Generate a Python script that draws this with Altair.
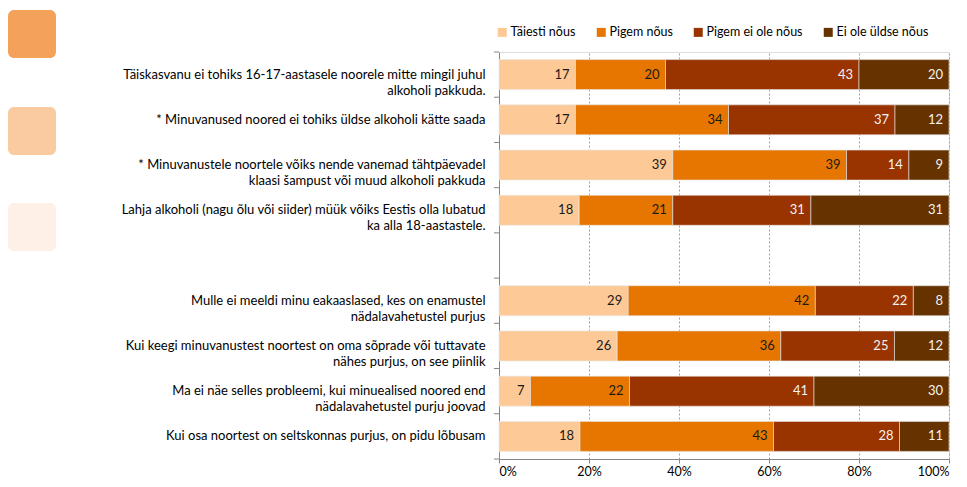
import altair as alt
import pandas as pd

statements = [
    "Täiskasvanu ei tohiks 16-17-aastasele noorele mitte mingil juhul\nalkoholi pakkuda.",
    "* Minuvanused noored ei tohiks üldse alkoholi kätte saada",
    "* Minuvanustele noortele võiks nende vanemad tähtpäevadel\nklaasi šampust või muud alkoholi pakkuda",
    "Lahja alkoholi (nagu õlu või siider) müük võiks Eestis olla lubatud\nka alla 18-aastastele.",
    " ",
    "Mulle ei meeldi minu eakaaslased, kes on enamustel\nnädalavahetustel purjus",
    "Kui keegi minuvanustest noortest on oma sõprade või tuttavate\nnähes purjus, on see piinlik",
    "Ma ei näe selles probleemi, kui minuealised noored end\nnädalavahetustel purju joovad",
    "Kui osa noortest on seltskonnas purjus, on pidu lõbusam",
]
responses = ["Täiesti nõus", "Pigem nõus", "Pigem ei ole nõus", "Ei ole üldse nõus"]
colors = ["#FDC996", "#E67600", "#993300", "#663300"]

taiesti = [17, 17, 39, 18, None, 29, 26, 7, 18]
pigem = [20, 34, 39, 21, None, 42, 36, 22, 43]
pigem_ei = [43, 37, 14, 31, None, 22, 25, 41, 28]
ei_ylds = [20, 12, 9, 31, None, 8, 12, 30, 11]

rows = []
for i, s in enumerate(statements):
    for r, (resp, vals) in enumerate(zip(responses, [taiesti, pigem, pigem_ei, ei_ylds])):
        if vals[i] is not None:
            rows.append({"statement": s, "resp": resp, "rank": r, "value": vals[i]})
df = pd.DataFrame(rows)

FONT = "Lato"
H = 407

y_scale = alt.Scale(domain=statements, paddingInner=0, paddingOuter=0)
y_axis = alt.Axis(
    title=None, ticks=False, domain=True, domainColor="#868686",
    labelExpr="split(datum.label, '\\n')", labelAlign="right",
    labelPadding=14, labelLimit=440, labelFontSize=13, labelFont=FONT,
    labelColor="#000000", labelLineHeight=16, grid=False,
)
y_enc = alt.Y("statement:N", sort=statements, scale=y_scale, axis=y_axis)

x_axis = alt.Axis(
    title=None, format="%", values=[0, 0.2, 0.4, 0.6, 0.8, 1.0],
    grid=True, gridDash=[2, 2], gridColor="#A0A0A0", gridWidth=1,
    domainColor="#868686", tickColor="#868686", tickSize=4,
    labelFontSize=12.5, labelFont=FONT, labelColor="#000000", labelPadding=2,
)

base = alt.Chart(df)

bars = base.mark_bar(size=30, stroke="#E8E8E8", strokeWidth=0.6).encode(
    x=alt.X("value:Q", stack="normalize", axis=x_axis, scale=alt.Scale(domain=[0, 1])),
    y=y_enc,
    color=alt.Color(
        "resp:N",
        scale=alt.Scale(domain=responses, range=colors),
        legend=alt.Legend(
            title=None, orient="none", direction="horizontal", columns=4,
            legendX=-3, legendY=-26, symbolType="square", symbolSize=81,
            symbolStrokeWidth=0, labelFontSize=12.5, labelFont=FONT,
            labelColor="#000000", columnPadding=19, labelOffset=2,
        ),
    ),
    order=alt.Order("rank:Q", sort="ascending"),
)

labels = base.mark_text(align="right", baseline="middle", dx=-6, fontSize=13, font=FONT).encode(
    x=alt.X("value:Q", stack="normalize", axis=x_axis, scale=alt.Scale(domain=[0, 1])),
    y=y_enc,
    text=alt.Text("value:Q"),
    color=alt.condition(
        alt.FieldOneOfPredicate(field="resp", oneOf=["Pigem ei ole nõus", "Ei ole üldse nõus"]),
        alt.value("#F2F2F2"), alt.value("#1A1A1A"),
    ),
    order=alt.Order("rank:Q", sort="ascending"),
)

tick_df = pd.DataFrame({"statement": statements})
ticks_top = alt.Chart(tick_df).mark_rule(color="#868686").encode(
    x=alt.value(-5), x2=alt.value(0),
    y=alt.Y("statement:N", sort=statements, scale=y_scale, axis=y_axis, bandPosition=0),
)
ticks_bottom = alt.Chart(tick_df.tail(1)).mark_rule(color="#868686").encode(
    x=alt.value(-5), x2=alt.value(0),
    y=alt.Y("statement:N", sort=statements, scale=y_scale, axis=y_axis, bandPosition=1),
)

def deco(y0, color):
    return alt.Chart(alt.Data(values=[{}])).mark_rect(cornerRadius=6, color=color).encode(
        x=alt.value(-491), x2=alt.value(-443), y=alt.value(y0), y2=alt.value(y0 + 48)
    )

chart = alt.layer(
    deco(-42, "#F4A25B"), deco(55, "#FACBA1"), deco(151, "#FEF0E7"),
    bars, labels, ticks_top, ticks_bottom,
).properties(
    width=450, height=H,
    autosize=alt.AutoSizeParams(type="none"),
    padding={"left": 491, "top": 44, "right": 10, "bottom": 20},
).configure_view(stroke=None).configure(background="white")

chart.save("out.html", embed_options={"renderer": "svg", "actions": False})
